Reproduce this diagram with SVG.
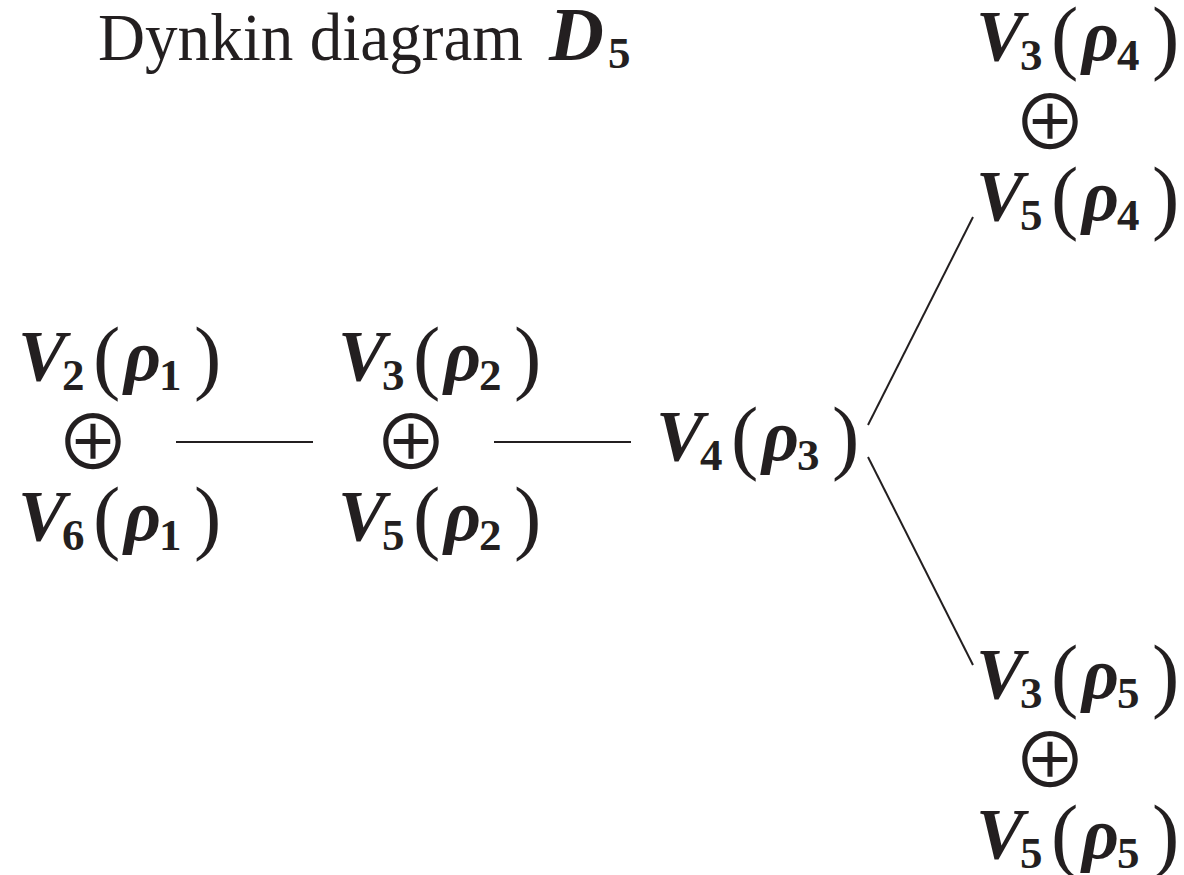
<svg xmlns="http://www.w3.org/2000/svg" width="1184" height="875" viewBox="0 0 1184 875">
<style>
.m{font-family:"Liberation Serif",serif;font-size:72px;font-weight:bold;fill:#231f20}
.i{font-style:italic}
.s{font-size:45px}
.p{font-size:82px;font-weight:normal}
.op{font-family:"Noto Sans CJK JP","DejaVu Sans",sans-serif;font-size:75px;fill:#231f20;text-anchor:middle}
.t{font-family:"Liberation Serif",serif;font-size:68px;fill:#231f20}
.c{stroke:#231f20;stroke-width:2;fill:none}
</style>
<rect width="1184" height="875" fill="#fff"/>
<g id="title">
<text class="t" x="98" y="60" textLength="425" lengthAdjust="spacingAndGlyphs">Dynkin diagram</text>
<text class="m"><tspan class="i" x="549" y="60" style="font-size:76px">D</tspan><tspan class="s" x="608" y="68">5</tspan></text>
</g>
<g id="connectors">
<line class="c" x1="176" y1="442" x2="313" y2="442"/>
<line class="c" x1="494" y1="442" x2="631" y2="442"/>
<line class="c" x1="868" y1="425" x2="973" y2="217"/>
<line class="c" x1="868" y1="457" x2="973" y2="665"/>
</g>
<g id="node1">
<text class="m"><tspan class="i" x="18" y="380">V</tspan><tspan class="s" x="62" y="390">2</tspan><tspan class="p" x="93" y="384">(</tspan><tspan class="i" x="124" y="380">ρ</tspan><tspan class="s" x="159" y="390">1</tspan><tspan class="p" x="194" y="384">)</tspan></text>
<text class="op" x="93" y="470">⊕</text>
<text class="m"><tspan class="i" x="18" y="540">V</tspan><tspan class="s" x="62" y="550">6</tspan><tspan class="p" x="93" y="544">(</tspan><tspan class="i" x="124" y="540">ρ</tspan><tspan class="s" x="159" y="550">1</tspan><tspan class="p" x="194" y="544">)</tspan></text>
</g>
<g id="node2">
<text class="m"><tspan class="i" x="338" y="380">V</tspan><tspan class="s" x="382" y="390">3</tspan><tspan class="p" x="413" y="384">(</tspan><tspan class="i" x="444" y="380">ρ</tspan><tspan class="s" x="479" y="390">2</tspan><tspan class="p" x="514" y="384">)</tspan></text>
<text class="op" x="411" y="470">⊕</text>
<text class="m"><tspan class="i" x="338" y="540">V</tspan><tspan class="s" x="382" y="550">5</tspan><tspan class="p" x="413" y="544">(</tspan><tspan class="i" x="444" y="540">ρ</tspan><tspan class="s" x="479" y="550">2</tspan><tspan class="p" x="514" y="544">)</tspan></text>
</g>
<g id="node3">
<text class="m"><tspan class="i" x="656" y="460">V</tspan><tspan class="s" x="700" y="470">4</tspan><tspan class="p" x="731" y="464">(</tspan><tspan class="i" x="762" y="460">ρ</tspan><tspan class="s" x="797" y="470">3</tspan><tspan class="p" x="832" y="464">)</tspan></text>
</g>
<g id="node4">
<text class="m"><tspan class="i" x="976" y="60">V</tspan><tspan class="s" x="1020" y="70">3</tspan><tspan class="p" x="1051" y="64">(</tspan><tspan class="i" x="1082" y="60">ρ</tspan><tspan class="s" x="1117" y="70">4</tspan><tspan class="p" x="1152" y="64">)</tspan></text>
<text class="op" x="1050" y="150">⊕</text>
<text class="m"><tspan class="i" x="976" y="220">V</tspan><tspan class="s" x="1020" y="230">5</tspan><tspan class="p" x="1051" y="224">(</tspan><tspan class="i" x="1082" y="220">ρ</tspan><tspan class="s" x="1117" y="230">4</tspan><tspan class="p" x="1152" y="224">)</tspan></text>
</g>
<g id="node5">
<text class="m"><tspan class="i" x="976" y="698">V</tspan><tspan class="s" x="1020" y="708">3</tspan><tspan class="p" x="1051" y="702">(</tspan><tspan class="i" x="1082" y="698">ρ</tspan><tspan class="s" x="1117" y="708">5</tspan><tspan class="p" x="1152" y="702">)</tspan></text>
<text class="op" x="1050" y="788">⊕</text>
<text class="m"><tspan class="i" x="976" y="858">V</tspan><tspan class="s" x="1020" y="868">5</tspan><tspan class="p" x="1051" y="862">(</tspan><tspan class="i" x="1082" y="858">ρ</tspan><tspan class="s" x="1117" y="868">5</tspan><tspan class="p" x="1152" y="862">)</tspan></text>
</g>
</svg>
